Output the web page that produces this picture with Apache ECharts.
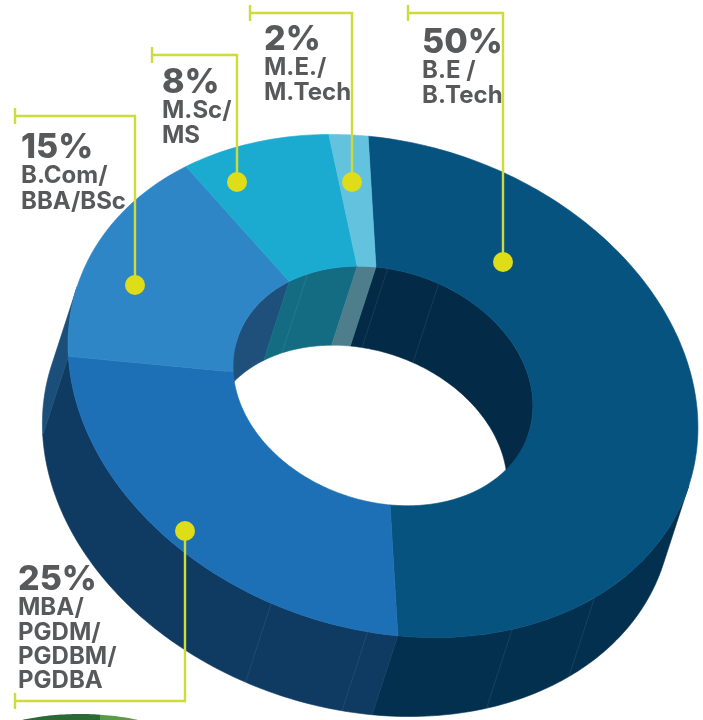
<!DOCTYPE html>
<html>
<head>
<meta charset="utf-8">
<style>html,body{margin:0;padding:0;background:#fff}#chart{width:703px;height:720px}</style>
<script src="https://cdn.jsdelivr.net/npm/echarts@6/dist/echarts.min.js"></script>
</head>
<body>
<div id="chart"></div>
<script>
// Share of graduates by degree, drawn as a tilted, extruded ring.
const degrees = [
  ['B.E /', 'B.Tech'],
  ['MBA/', 'PGDM/', 'PGDBM/', 'PGDBA'],
  ['B.Com/', 'BBA/BSc'],
  ['M.Sc/', 'MS'],
  ['M.E./', 'M.Tech']
];
const shares = [50, 25, 15, 8, 2];
const topColors = ['#07537f', '#1d70b5', '#2f86c6', '#1cabd0', '#63c2de'];
const outerWallColors = ['#04304f', '#0f3a62', '#1b4f7a', '#1b4f7a', '#1b4f7a'];
const innerWallColors = ['#032b47', '#0f3a62', '#1f507c', '#136c82', '#4e7d8b'];
// Faint joins in the side walls, as angles around the ring.
const outerSeams = [34, 52, 79, 97];
const innerSeams = [226, 258, 278];

// Projection of the ring: a circle turned and flattened, then pushed along its minor axis.
const view = { cx: 383, cy: 386, rx: 321.6, ry: 243, tilt: 18, hole: 0.476, depth: 83, start: 253.5 };
const rad = Math.PI / 180;
const cosT = Math.cos(view.tilt * rad), sinT = Math.sin(view.tilt * rad);

function project(angle, radius, drop) {
  const u = view.rx * radius * Math.cos(angle * rad);
  const v = view.ry * radius * Math.sin(angle * rad) + drop;
  return [view.cx + u * cosT - v * sinT, view.cy + u * sinT + v * cosT];
}
function arc(from, to, radius, drop) {
  const pts = [], n = Math.max(2, Math.ceil(Math.abs(to - from)));
  for (let i = 0; i <= n; i++) pts.push(project(from + (to - from) * i / n, radius, drop));
  return pts;
}
const total = shares.reduce((a, b) => a + b, 0);
function sliceRange(index) {
  const before = shares.slice(0, index).reduce((a, b) => a + b, 0);
  const from = view.start + before / total * 360;
  return [from, from + shares[index] / total * 360];
}
// Part of [from, to] that falls inside [lo, hi], checked over whole turns.
function clipRange(from, to, lo, hi) {
  const out = [];
  for (const k of [-360, 0, 360]) {
    const a = Math.max(from, lo + k), b = Math.min(to, hi + k);
    if (b > a) out.push([a, b]);
  }
  return out;
}
function polygon(points, color) {
  return { type: 'polygon', shape: { points }, style: { fill: color, stroke: color, lineWidth: 0.6 } };
}

function renderWalls(params, api) {
  const [from, to] = sliceRange(params.dataIndex);
  const children = [];
  // The outer wall shows on the near half, the inner wall on the far half.
  clipRange(from, to, 0, 180).forEach(([a, b]) => {
    children.push(polygon(arc(a, b, 1, 0).concat(arc(b, a, 1, view.depth)), outerWallColors[params.dataIndex]));
  });
  clipRange(from, to, 180, 360).forEach(([a, b]) => {
    children.push(polygon(arc(a, b, view.hole, 0).concat(arc(b, a, view.hole, view.depth)), innerWallColors[params.dataIndex]));
  });
  return { type: 'group', children };
}
function renderTop(params, api) {
  const [from, to] = sliceRange(params.dataIndex);
  return polygon(arc(from, to, 1, 0).concat(arc(to, from, view.hole, 0)), topColors[params.dataIndex]);
}
function renderSeam(radius) {
  return function (params, api) {
    const a = api.value(0), p = project(a, radius, 0), q = project(a, radius, view.depth);
    return { type: 'line', shape: { x1: p[0], y1: p[1], x2: q[0], y2: q[1] }, style: { stroke: 'rgba(255,255,255,0.08)', lineWidth: 1 } };
  };
}

// Callouts: leader path, end tick and text block for each slice.
const leaderColor = '#cddc3a', dotColor = '#dfdc18', inkColor = '#58595b';
const labelFont = '"Inter", "Liberation Sans", sans-serif';
const pctSize = 34, lineSize = 24;
const callouts = [
  { tickX: 408, railY: 13, dot: [503, 262], textX: 422, pctY: 53, firstY: 78, step: 24.5 },
  { tickX: 15, railY: 701, dot: [185, 531], textX: 18, pctY: 590, firstY: 615, step: 24.4 },
  { tickX: 15, railY: 116, dot: [135, 285], textX: 21, pctY: 158, firstY: 183, step: 26 },
  { tickX: 152, railY: 55, dot: [237, 182], textX: 162, pctY: 93, firstY: 118, step: 25 },
  { tickX: 250, railY: 13, dot: [352, 182], textX: 264, pctY: 50, firstY: 75, step: 25 }
];
// Text is anchored by its vertical middle, so a baseline is moved up by part of the size.
function textEl(x, baseline, text, font, size) {
  return { type: 'text', z: 5, style: { x, y: baseline - size * 0.29, text, fill: inkColor, font, verticalAlign: 'middle' } };
}
const graphics = [];
callouts.forEach((c, i) => {
  graphics.push(textEl(c.textX, c.pctY, shares[i] + '%', '800 ' + pctSize + 'px ' + labelFont, pctSize));
  degrees[i].forEach((line, k) => {
    graphics.push(textEl(c.textX, c.firstY + k * c.step, line, '700 ' + lineSize + 'px ' + labelFont, lineSize));
  });
  graphics.push({ type: 'polyline', z: 6, shape: { points: [[c.tickX, c.railY], [c.dot[0], c.railY], c.dot] }, style: { stroke: leaderColor, lineWidth: 2.4, fill: null } });
  graphics.push({ type: 'line', z: 6, shape: { x1: c.tickX, y1: c.railY - 8, x2: c.tickX, y2: c.railY + 8 }, style: { stroke: leaderColor, lineWidth: 2.4 } });
  graphics.push({ type: 'circle', z: 7, shape: { cx: c.dot[0], cy: c.dot[1], r: 10 }, style: { fill: dotColor } });
});
// Top of the next graphic, cut off by the lower edge: a dark cap with a lighter right part.
const capCx = 80, capCy = 754, capRx = 110, capRy = 40;
function capPoints(fromX, toX) {
  const pts = [];
  for (let x = fromX; x <= toX; x += 3) {
    pts.push([x, capCy - capRy * Math.sqrt(Math.max(0, 1 - Math.pow((x - capCx) / capRx, 2)))]);
  }
  pts.push([toX, 720], [fromX, 720]);
  return pts;
}
graphics.push({ type: 'polygon', z: 1, shape: { points: capPoints(10, 100) }, style: { fill: '#2c6a35' } });
graphics.push({ type: 'polygon', z: 1, shape: { points: capPoints(100, 150) }, style: { fill: '#5c9a45' } });

const chart = echarts.init(document.getElementById('chart'), null, { renderer: 'canvas' });
chart.setOption({
  animation: false,
  backgroundColor: '#ffffff',
  graphic: graphics,
  series: [
    { type: 'custom', coordinateSystem: 'none', name: 'walls', z: 2, renderItem: renderWalls, data: shares, silent: true },
    { type: 'custom', coordinateSystem: 'none', name: 'outer joins', z: 2.1, renderItem: renderSeam(1), data: outerSeams, silent: true },
    { type: 'custom', coordinateSystem: 'none', name: 'inner joins', z: 2.1, renderItem: renderSeam(view.hole), data: innerSeams, silent: true },
    { type: 'custom', coordinateSystem: 'none', name: 'shares', z: 3, renderItem: renderTop, data: shares, silent: true }
  ]
});
</script>
</body>
</html>
